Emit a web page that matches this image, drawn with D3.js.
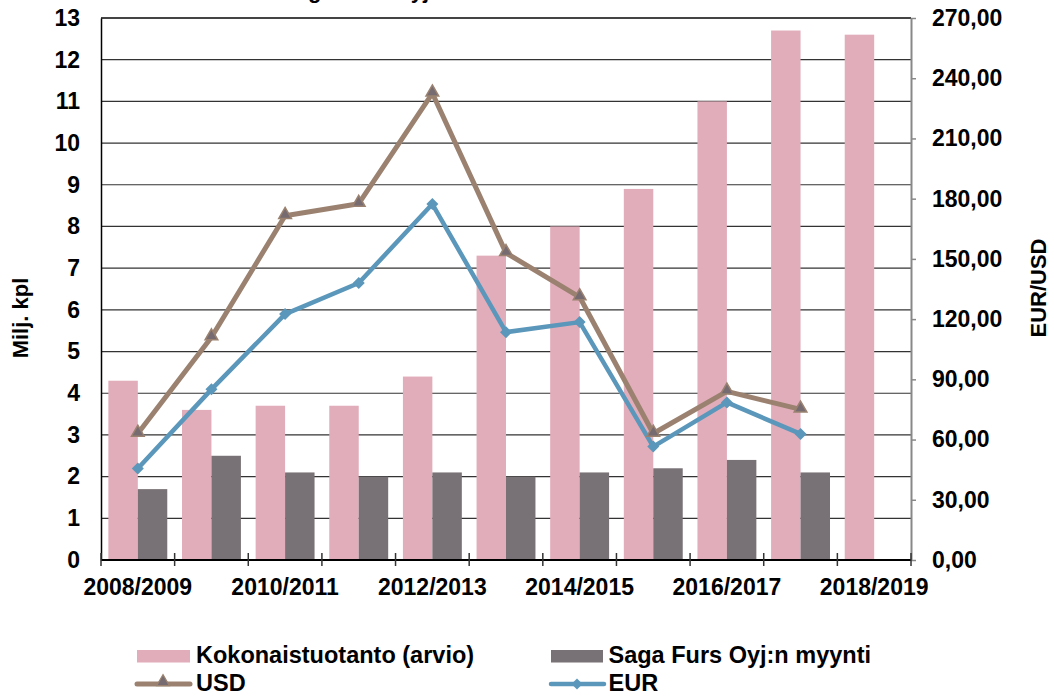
<!DOCTYPE html>
<html>
<head>
<meta charset="utf-8">
<script src="https://cdn.jsdelivr.net/npm/d3@7"></script>
<style>
  html, body { margin: 0; padding: 0; background: #fff; }
  svg { display: block; font-family: "Liberation Sans", Arial, sans-serif; font-weight: bold; }
</style>
</head>
<body>
<svg id="chart" width="1054" height="697"></svg>
<script>
const categories = ["2008/2009","2009/2010","2010/2011","2011/2012","2012/2013","2013/2014","2014/2015","2015/2016","2016/2017","2017/2018","2018/2019"];
const xTickLabels = ["2008/2009","2010/2011","2012/2013","2014/2015","2016/2017","2018/2019"];
const production = [4.3, 3.6, 3.7, 3.7, 4.4, 7.3, 8.0, 8.9, 11.0, 12.7, 12.6];
const sales = [1.7, 2.5, 2.1, 2.0, 2.1, 2.0, 2.1, 2.2, 2.4, 2.1, null];
const usd = [63, 111, 171.5, 177.5, 232.5, 153, 131, 63, 84, 75, null];
const eur = [45.6, 85, 122.5, 138, 177.3, 113.5, 118.5, 56.5, 78.5, 62.8, null];
const leftTicks = [0,1,2,3,4,5,6,7,8,9,10,11,12,13];
const rightTicks = [0,30,60,90,120,150,180,210,240,270];
const seriesNames = ["Kokonaistuotanto (arvio)", "Saga Furs Oyj:n myynti", "USD", "EUR"];
const titleText = "Saga Furs Oyj";

const colors = { prod: "#E1ADBA", sales: "#787175", usd: "#9B8270", usdMarker: "#766B70", eur: "#5B97BA" };

const svg = d3.select("#chart");
const L = 101, R = 911, T = 18, B = 560;
const tickFont = 23;

const x = d3.scaleBand().domain(categories).range([L, R]).paddingInner(0).paddingOuter(0);
const xs = d3.scaleBand().domain(["prod","sales"]).range([0, x.bandwidth()]).paddingInner(0).paddingOuter(0.25);
const yL = d3.scaleLinear().domain([0, 13]).range([B, T]);
const yR = d3.scaleLinear().domain([0, 270]).range([B, T]);

// partially visible title (cut off at the top edge, as in the reference)
svg.append("text").attr("x", 429).attr("y", -2).attr("text-anchor", "end")
  .attr("font-size", 22).attr("fill", "#000").text(titleText);

// gridlines
svg.append("g").selectAll("line").data(leftTicks.filter(d => d > 0)).join("line")
  .attr("x1", L).attr("x2", R)
  .attr("y1", d => yL(d)).attr("y2", d => yL(d))
  .attr("stroke", d => d === 13 ? "#444" : "#333").attr("stroke-width", d => d === 13 ? 2 : 1.2);

// bars
const gBars = svg.append("g");
gBars.selectAll("rect.prod").data(production.map((v, i) => ({c: categories[i], v}))).join("rect")
  .attr("class", "prod")
  .attr("x", d => x(d.c) + xs("prod")).attr("width", xs.bandwidth())
  .attr("y", d => yL(d.v)).attr("height", d => yL(0) - yL(d.v))
  .attr("fill", colors.prod);
gBars.selectAll("rect.sales").data(sales.map((v, i) => ({c: categories[i], v})).filter(d => d.v != null)).join("rect")
  .attr("class", "sales")
  .attr("x", d => x(d.c) + xs("sales")).attr("width", xs.bandwidth())
  .attr("y", d => yL(d.v)).attr("height", d => yL(0) - yL(d.v))
  .attr("fill", colors.sales);

// axes
const leftAxis = d3.axisLeft(yL).tickValues(leftTicks).tickSize(0).tickPadding(21).tickFormat(d3.format("d"));
const gL = svg.append("g").attr("transform", `translate(${L},0)`).call(leftAxis);
gL.select(".domain").attr("stroke", "#000").attr("stroke-width", 1.5);
gL.selectAll("text").attr("font-size", tickFont).attr("font-family", "Liberation Sans, Arial, sans-serif").attr("font-weight", "bold").attr("fill", "#000");

const fmtComma = d => d3.format(".2f")(d).replace(".", ",");
const rightAxis = d3.axisRight(yR).tickValues(rightTicks).tickSize(5).tickSizeOuter(0).tickPadding(16).tickFormat(fmtComma);
const gR = svg.append("g").attr("transform", `translate(${R},0)`).call(rightAxis);
gR.select(".domain").attr("stroke", "#888").attr("stroke-width", 2);
gR.selectAll(".tick line").attr("stroke", "#888").attr("stroke-width", 1.5);
gR.selectAll("text").attr("font-size", tickFont).attr("font-family", "Liberation Sans, Arial, sans-serif").attr("font-weight", "bold").attr("fill", "#000");

// x axis
const gX = svg.append("g");
gX.append("line").attr("x1", L).attr("x2", R).attr("y1", B).attr("y2", B).attr("stroke", "#000").attr("stroke-width", 1.8);
const boundaries = categories.map(c => x(c)).concat([x(categories[categories.length - 1]) + x.bandwidth()]);
gX.selectAll("line.tk").data(boundaries).join("line").attr("class", "tk")
  .attr("x1", d => d).attr("x2", d => d).attr("y1", B - 7).attr("y2", B + 6)
  .attr("stroke", "#333").attr("stroke-width", 1.5);
gX.selectAll("text").data(xTickLabels).join("text")
  .attr("x", d => x(d) + x.bandwidth() / 2).attr("y", 595)
  .attr("text-anchor", "middle").attr("font-size", tickFont).attr("fill", "#000").text(d => d);

// lines
const cx = i => x(categories[i]) + x.bandwidth() / 2;
const usdPts = usd.map((v, i) => ({i, v})).filter(d => d.v != null);
const eurPts = eur.map((v, i) => ({i, v})).filter(d => d.v != null);
const line = d3.line().x(d => cx(d.i)).y(d => yR(d.v));

svg.append("path").datum(eurPts).attr("d", line).attr("fill", "none")
  .attr("stroke", colors.eur).attr("stroke-width", 4.5).attr("stroke-linejoin", "round");
svg.append("g").selectAll("path").data(eurPts).join("path")
  .attr("d", d3.symbol().type(d3.symbolSquare).size(72))
  .attr("transform", d => `translate(${cx(d.i)},${yR(d.v)}) rotate(45)`)
  .attr("fill", colors.eur);

svg.append("path").datum(usdPts).attr("d", line).attr("fill", "none")
  .attr("stroke", colors.usd).attr("stroke-width", 5).attr("stroke-linejoin", "round");
svg.append("g").selectAll("path").data(usdPts).join("path")
  .attr("d", d3.symbol().type(d3.symbolTriangle).size(70))
  .attr("transform", d => `translate(${cx(d.i)},${yR(d.v) - 1})`)
  .attr("fill", colors.usdMarker).attr("stroke", colors.usd).attr("stroke-width", 1.5);

// axis titles
svg.append("text").attr("transform", "translate(28,318) rotate(-90)").attr("text-anchor", "middle")
  .attr("font-size", 22).attr("fill", "#000").text("Milj. kpl");
svg.append("text").attr("transform", "translate(1046,288) rotate(-90)").attr("text-anchor", "middle")
  .attr("font-size", 22).attr("fill", "#000").text("EUR/USD");

// legend
const lg = svg.append("g");
const addText = (tx, ty, s) => {
  lg.append("text").attr("x", tx).attr("y", ty).attr("font-size", 23.5).attr("fill", "#000").text(s);
};
lg.append("rect").attr("x", 137).attr("y", 650).attr("width", 53).attr("height", 12.5).attr("fill", colors.prod);
addText(196, 663, seriesNames[0]);
lg.append("rect").attr("x", 551).attr("y", 650).attr("width", 52).attr("height", 12.5).attr("fill", colors.sales);
addText(608.5, 663, seriesNames[1]);

lg.append("line").attr("x1", 137).attr("x2", 190).attr("y1", 684).attr("y2", 684)
  .attr("stroke", colors.usd).attr("stroke-width", 5).attr("stroke-linecap", "round");
lg.append("path").attr("d", d3.symbol().type(d3.symbolTriangle).size(70))
  .attr("transform", "translate(163,682)").attr("fill", colors.usdMarker).attr("stroke", colors.usd).attr("stroke-width", 1.2);
addText(196, 690.5, seriesNames[2]);

lg.append("line").attr("x1", 551).attr("x2", 604).attr("y1", 684).attr("y2", 684)
  .attr("stroke", colors.eur).attr("stroke-width", 4.5).attr("stroke-linecap", "round");
lg.append("path").attr("d", d3.symbol().type(d3.symbolSquare).size(60))
  .attr("transform", "translate(577,684) rotate(45)").attr("fill", colors.eur);
addText(608.5, 690.5, seriesNames[3]);
</script>
</body>
</html>
